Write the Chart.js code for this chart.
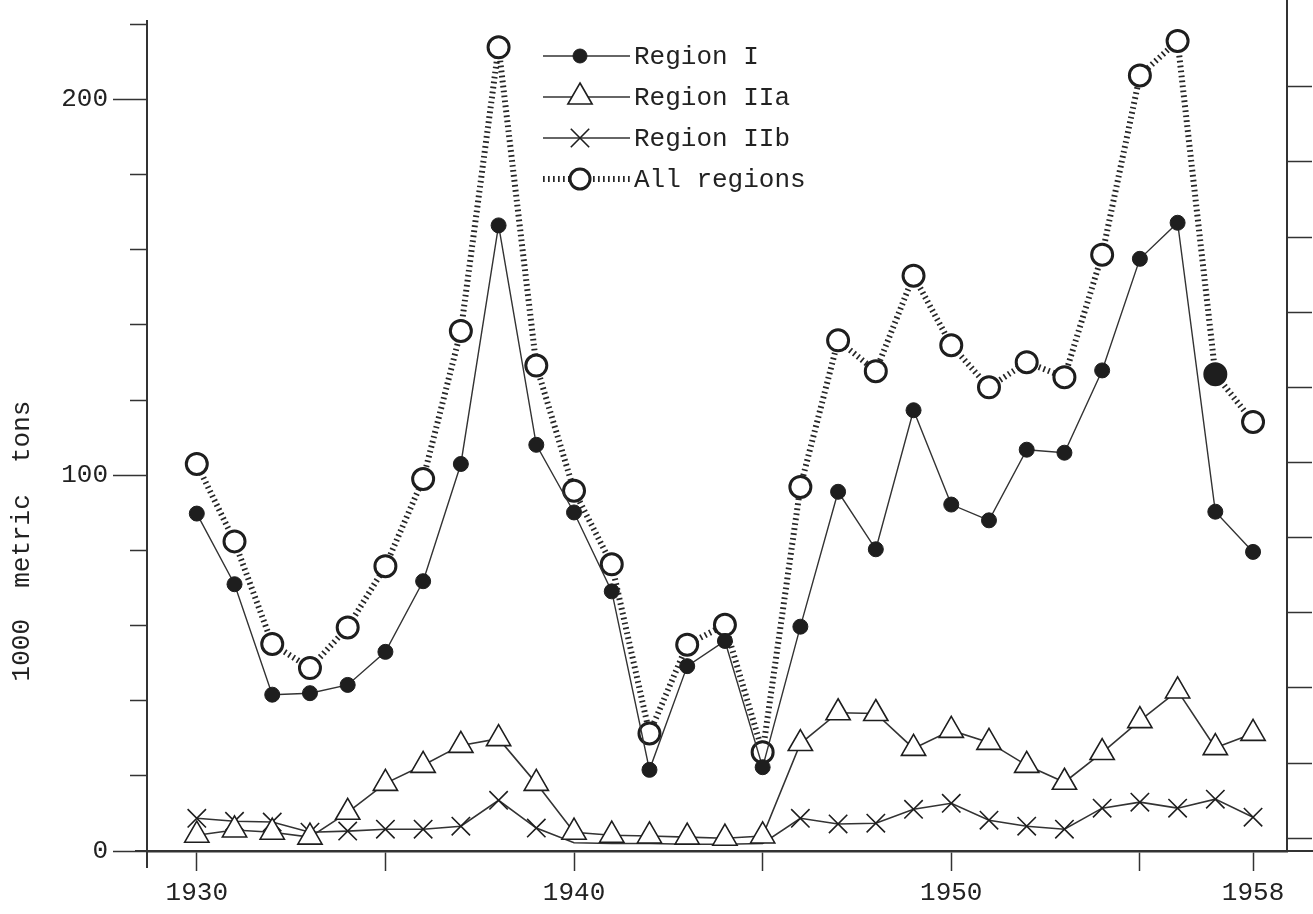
<!DOCTYPE html>
<html>
<head>
<meta charset="utf-8">
<title>Catch by region 1930-1958</title>
<script src="https://cdn.jsdelivr.net/npm/chart.js@4.4.1/dist/chart.umd.min.js"></script>
<style>
  html, body { margin: 0; padding: 0; background: #fff; overflow: hidden; }
  canvas { display: block; }
</style>
</head>
<body>
<canvas id="catchChart" width="1313" height="914"></canvas>
<script>
// years on the x axis
const years = [
    1930, 1931, 1932, 1933, 1934, 1935, 1936, 1937, 1938, 1939,
    1940, 1941, 1942, 1943, 1944, 1945, 1946, 1947, 1948, 1949,
    1950, 1951, 1952, 1953, 1954, 1955, 1956, 1957, 1958,
];

// values in 1000 metric tons
const regionI = [
    89.8, 71.0, 41.6, 42.0, 44.2, 53.0, 71.8, 103.0, 166.5, 108.1,
    90.1, 69.1, 21.6, 49.2, 55.9, 22.3, 59.7, 95.6, 80.3, 117.3,
    92.2, 88.0, 106.8, 106.0, 127.9, 157.6, 167.2, 90.3, 79.6,
];
const regionIIa = [
    4.2, 5.6, 5.0, 3.7, 10.3, 18.0, 22.8, 28.1, 29.9, 18.0,
    5.0, 4.2, 4.0, 3.7, 3.4, 4.0, 28.6, 36.8, 36.6, 27.3,
    32.1, 28.9, 22.8, 18.3, 26.2, 34.7, 42.6, 27.5, 31.3,
];
const regionIIb = [
    8.7, 7.9, 7.7, 5.0, 5.3, 5.8, 5.8, 6.6, 13.5, 6.1,
    2.2, 2.0, 2.0, 1.8, 1.8, 2.0, 8.7, 7.2, 7.4, 11.1,
    12.7, 8.2, 6.6, 5.8, 11.4, 13.0, 11.4, 13.8, 9.0,
];
const allRegions = [
    103.0, 82.4, 55.1, 48.7, 59.5, 75.8, 99.0, 138.4, 213.9, 129.2,
    95.9, 76.3, 31.3, 54.9, 60.2, 26.3, 96.9, 135.9, 127.7, 153.1,
    134.6, 123.4, 130.1, 126.1, 158.7, 206.4, 215.6, 126.9, 114.2,
];

// axis ticks
const xTicks = [1930, 1935, 1940, 1945, 1950, 1955, 1958];
const xLabels = [1930, 1940, 1950, 1958];
const yLabels = [0, 100, 200];

const yTitle = "1000  metric  tons";
const ink = "#1e1e1e";
const lineInk = "#333";

const toPoints = (values) => values.map((v, i) => ({ x: years[i], y: v }));

Chart.defaults.font.family = "'Liberation Mono', 'Courier New', monospace";
Chart.defaults.font.size = 26;
Chart.defaults.color = "#222";

// легенда и подпись оси рисуются вручную, как на бумаге
const paperDecor = {
    id: "paperDecor",
    afterDraw(chart) {
        const ctx = chart.ctx;
        const area = chart.chartArea;
        ctx.save();

        // хвосты осей
        ctx.strokeStyle = lineInk;
        ctx.lineWidth = 2;
        ctx.beginPath();
        ctx.moveTo(area.left - 12, area.bottom);
        ctx.lineTo(area.left, area.bottom);
        ctx.moveTo(area.right, area.bottom);
        ctx.lineTo(chart.width, area.bottom);
        ctx.moveTo(area.left, area.bottom);
        ctx.lineTo(area.left, area.bottom + 17);
        ctx.moveTo(area.right, area.top);
        ctx.lineTo(area.right, 0);
        ctx.stroke();

        // подпись оси Y
        ctx.fillStyle = "#222";
        ctx.font = "26px 'Liberation Mono', monospace";
        ctx.textAlign = "center";
        ctx.textBaseline = "middle";
        ctx.translate(22, 541);
        ctx.rotate(-Math.PI / 2);
        ctx.fillText(yTitle, 0, 0);
        ctx.setTransform(1, 0, 0, 1, 0, 0);

        // легенда
        ctx.textAlign = "left";
        chart.data.datasets.forEach((ds, i) => {
            const y = 56 + i * 41;
            ctx.strokeStyle = ds.borderColor;
            ctx.lineWidth = ds.borderWidth;
            ctx.setLineDash(ds.borderDash || []);
            ctx.beginPath();
            ctx.moveTo(543, y);
            ctx.lineTo(630, y);
            ctx.stroke();
            ctx.setLineDash([]);

            ctx.strokeStyle = ds.pointBorderColor;
            ctx.fillStyle = ds.legendFill;
            ctx.lineWidth = ds.pointBorderWidth;
            Chart.helpers.drawPoint(
                ctx,
                {
                    pointStyle: ds.pointStyle,
                    radius: ds.markerRadius,
                    borderWidth: ds.pointBorderWidth,
                    rotation: 0,
                },
                580,
                y
            );

            ctx.fillStyle = "#222";
            ctx.fillText(ds.label, 634, y + 1);
        });
        ctx.restore();
    },
};

const ctx = document.getElementById("catchChart").getContext("2d");

new Chart(ctx, {
    type: "line",
    data: {
        datasets: [
            {
                label: "Region I",
                data: toPoints(regionI),
                borderColor: lineInk,
                borderWidth: 1.4,
                pointStyle: "circle",
                markerRadius: 7,
                pointRadius: 7.5,
                pointBorderWidth: 1,
                pointBorderColor: ink,
                pointBackgroundColor: ink,
                legendFill: ink,
            },
            {
                label: "Region IIa",
                data: toPoints(regionIIa),
                borderColor: lineInk,
                borderWidth: 1.6,
                pointStyle: "triangle",
                markerRadius: 14,
                pointRadius: 14,
                pointBorderWidth: 1.6,
                pointBorderColor: ink,
                pointBackgroundColor: "#fff",
                legendFill: "#fff",
            },
            {
                label: "Region IIb",
                data: toPoints(regionIIb),
                borderColor: lineInk,
                borderWidth: 1.6,
                pointStyle: "crossRot",
                markerRadius: 13,
                // crosses are not drawn where the series sits on the axis (1940-45)
                pointRadius: regionIIb.map((v) => (v < 3 ? 0 : 13)),
                pointBorderWidth: 1.6,
                pointBorderColor: ink,
                pointBackgroundColor: "#fff",
                legendFill: "#fff",
            },
            {
                label: "All regions",
                data: toPoints(allRegions),
                borderColor: "#262626",
                borderWidth: 6,
                borderDash: [1.7, 3.3],
                borderCapStyle: "butt",
                borderJoinStyle: "bevel",
                pointStyle: "circle",
                markerRadius: 10,
                pointRadius: 10.5,
                pointBorderWidth: 3,
                pointBorderColor: ink,
                pointBackgroundColor: years.map((yr) => (yr === 1957 ? ink : "#fff")),
                legendFill: "#fff",
            },
        ],
    },
    options: {
        responsive: false,
        animation: false,
        devicePixelRatio: 1,
        layout: { padding: { top: 17, left: 0, right: 0, bottom: 0 } },
        plugins: {
            legend: { display: false },
            tooltip: { enabled: false },
        },
        elements: { line: { tension: 0 } },
        scales: {
            x: {
                type: "linear",
                min: 1928.68,
                max: 1958.9,
                afterBuildTicks: (scale) => {
                    scale.ticks = xTicks.map((v) => ({ value: v }));
                },
                afterFit: (scale) => {
                    scale.height = 63;
                },
                ticks: {
                    autoSkip: false,
                    maxRotation: 0,
                    padding: 7,
                    callback: (v) => (xLabels.includes(v) ? String(v) : ""),
                },
                grid: {
                    drawOnChartArea: false,
                    tickLength: 20,
                    tickColor: lineInk,
                    tickWidth: 1.5,
                },
                border: { color: lineInk, width: 2.5 },
            },
            y: {
                position: "left",
                min: 0,
                max: 221,
                afterFit: (scale) => {
                    scale.width = 147;
                },
                ticks: {
                    stepSize: 20,
                    includeBounds: false,
                    autoSkip: false,
                    padding: 5,
                    callback: (v) => (yLabels.includes(v) ? String(v) : ""),
                },
                grid: {
                    drawOnChartArea: false,
                    tickLength: 34,
                    tickColor: lineInk,
                    tickWidth: 1.5,
                    // короткие засечки у неподписанных делений
                    tickBorderDash: (c) =>
                        c.tick && yLabels.includes(c.tick.value) ? [] : [0, 17, 17],
                },
                border: { color: lineInk, width: 2 },
            },
            y2: {
                position: "right",
                min: -3.4,
                max: 217.6,
                afterFit: (scale) => {
                    scale.width = 26;
                },
                ticks: {
                    stepSize: 20,
                    includeBounds: false,
                    autoSkip: false,
                    callback: () => "",
                },
                grid: {
                    drawOnChartArea: false,
                    tickLength: 25,
                    tickColor: lineInk,
                    tickWidth: 1.5,
                },
                border: { color: lineInk, width: 2 },
            },
        },
    },
    plugins: [paperDecor],
});
</script>
</body>
</html>
